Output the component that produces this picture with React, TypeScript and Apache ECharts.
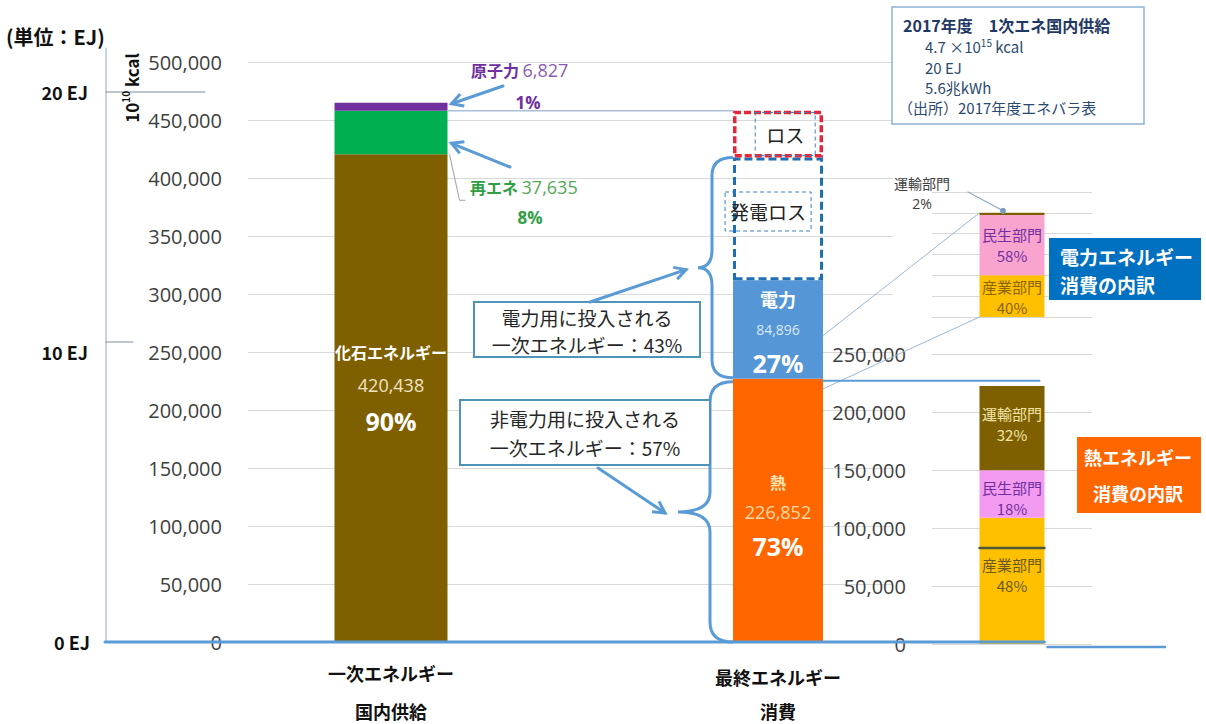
import { useEffect, useRef } from "react";
import * as echarts from "echarts";

// ---- energy balance, FY2017 (unit: 10^10 kcal) ----
const supplyNames = ["化石エネルギー", "再エネ", "原子力"];
const supplyValues = [420438, 37635, 6827];
const supplyShares = [90, 8, 1];
const supplyColors = ["#7f6000", "#00b050", "#7030a0"];

const finalNames = ["熱", "電力"];
const finalValues = [226852, 84896];
const finalShares = [73, 27];
const finalColors = ["#ff6600", "#5596d6"];

const lossNames = ["発電ロス", "ロス"];
const lossValues = [106000, 40300];

const inputShares = [43, 57]; // 電力用 / 非電力用

const electricSectors = ["産業部門", "民生部門", "運輸部門"];
const electricShares = [40, 58, 2];
const electricColors = ["#ffc000", "#f9a3cf", "#7f6000"];

const heatSectors = ["産業部門", "民生部門", "運輸部門"];
const heatShares = [48, 18, 32];
const heatColors = ["#ffc000", "#f39bf0", "#7f6000"];
const heatIndustryDivider = 82700;

const categories = ["一次エネルギー\n国内供給", "最終エネルギー\n消費"];
const kcalMax = 500000;
const sectorKcalMax = 250000;
const kcalStep = 50000;
const shareMax = 120;
const shareStep = 20;

const ejLabels = ["20 EJ", "10 EJ", "0 EJ"];
const infoTitle = "2017年度　1次エネ国内供給";
const infoLines = ["20 EJ", "5.6兆kWh"];
const infoSource = "（出所）2017年度エネバラ表";

const JP = '"Noto Sans CJK JP", "Noto Sans", sans-serif';
const NUM = '"Open Sans", "Noto Sans", sans-serif';
const fmt = (v: number) => v.toLocaleString("en-US");
const sum = (a: number[]) => a.reduce((s, v) => s + v, 0);

const SUPPLY_W = 113;
const FINAL_W = 90;
const SECTOR_W = 65;

// curly brace used to group the final-consumption bars
const Brace = (echarts as any).graphic.extendShape({
  type: "brace",
  shape: { x: 0, y1: 0, y2: 0, w: 20, r: 16, c: 18 },
  buildPath(ctx: any, s: any) {
    const xv = s.x - s.w;
    const ym = (s.y1 + s.y2) / 2;
    ctx.moveTo(s.x, s.y1);
    ctx.quadraticCurveTo(xv, s.y1, xv, s.y1 + s.r);
    ctx.lineTo(xv, ym - s.r);
    ctx.quadraticCurveTo(xv, ym, xv - s.c, ym);
    ctx.moveTo(xv - s.c, ym);
    ctx.quadraticCurveTo(xv, ym, xv, ym + s.r);
    ctx.lineTo(xv, s.y2 - s.r);
    ctx.quadraticCurveTo(xv, s.y2, s.x, s.y2);
  },
});
(echarts as any).graphic.registerShape("brace", Brace);

function txt(x: number, y: number, text: string, o: any = {}): any {
  const align = o.align || "left";
  const va = o.verticalAlign || "middle";
  return {
    type: "text",
    x,
    y,
    z: o.z || 30,
    silent: true,
    rotation: o.rotation || 0,
    style: {
      text,
      x: 0,
      y: 0,
      fill: o.fill || "#222",
      fontSize: o.fontSize || 16,
      fontWeight: o.fontWeight || "normal",
      fontFamily: o.fontFamily || JP,
      lineHeight: o.lineHeight,
      rich: o.rich,
      align,
      textAlign: align,
      verticalAlign: va,
      textVerticalAlign: va,
    },
  };
}

function seg(x1: number, y1: number, x2: number, y2: number, stroke: string, lineWidth: number, z = 20): any {
  return { type: "line", z, silent: true, shape: { x1, y1, x2, y2 }, style: { stroke, lineWidth, lineCap: "round" } };
}

function arrow(x1: number, y1: number, x2: number, y2: number, color: string, width: number): any[] {
  const a = Math.atan2(y2 - y1, x2 - x1);
  const len = 13;
  const sp = 0.5;
  const p1 = [x2 - len * Math.cos(a - sp), y2 - len * Math.sin(a - sp)];
  const p2 = [x2 - len * Math.cos(a + sp), y2 - len * Math.sin(a + sp)];
  return [
    seg(x1, y1, x2, y2, color, width, 25),
    {
      type: "polyline",
      z: 25,
      silent: true,
      shape: { points: [p1, [x2, y2], p2] },
      style: { stroke: color, lineWidth: width, fill: "none", lineJoin: "miter" },
    },
  ];
}

function sectorLabel(name: string, pct: number, color: string, posY: string) {
  return {
    show: true,
    position: ["50%", posY],
    align: "center",
    verticalAlign: "middle",
    formatter: `${name}\n${pct}%`,
    color,
    fontSize: 15,
    lineHeight: 21,
    fontFamily: JP,
  };
}

function buildOption(): any {
  const heat = finalValues[0];
  const valueAxisLabel = {
    formatter: (v: number) => fmt(v),
    fontSize: 20,
    color: "#404040",
    margin: 26,
    fontFamily: NUM,
  };
  const split = { show: true, lineStyle: { color: "#d9d9d9", width: 1.2 } };
  const catLabel = (lh: number, margin: number) => ({
    fontSize: 18,
    fontWeight: "bold",
    color: "#111",
    fontFamily: JP,
    lineHeight: lh,
    margin,
  });

  const supplySeries = supplyNames.map((name, i) => ({
    type: "bar",
    name,
    xAxisIndex: 1,
    yAxisIndex: 1,
    stack: "supply",
    barWidth: SUPPLY_W,
    silent: true,
    data: [supplyValues[i]],
    itemStyle: { color: supplyColors[i] },
    label:
      i === 0
        ? {
            show: true,
            position: ["50%", "48%"],
            align: "center",
            verticalAlign: "middle",
            formatter: `{n|${name}}\n{v|${fmt(supplyValues[i])}}\n{p|${supplyShares[i]}%}`,
            rich: {
              n: { fontSize: 16, fontWeight: "bold", color: "#ffffff", lineHeight: 32, fontFamily: JP },
              v: { fontSize: 18, color: "#f1e4c4", lineHeight: 34, fontFamily: NUM },
              p: { fontSize: 25, fontWeight: "bold", color: "#ffffff", lineHeight: 38, fontFamily: NUM },
            },
          }
        : { show: false },
  }));

  const finalRich = (nameSize: number, nameColor: string, valSize: number, valColor: string) => ({
    n: { fontSize: nameSize, fontWeight: "bold", color: nameColor, lineHeight: 29, fontFamily: JP },
    v: { fontSize: valSize, color: valColor, lineHeight: 32, fontFamily: NUM },
    p: { fontSize: 25, fontWeight: "bold", color: "#ffffff", lineHeight: 36, fontFamily: NUM },
  });

  const finalSeries = finalNames.map((name, i) => ({
    type: "bar",
    name,
    xAxisIndex: 2,
    yAxisIndex: 2,
    stack: "final",
    barWidth: FINAL_W,
    silent: true,
    data: [finalValues[i]],
    itemStyle: { color: finalColors[i] },
    label: {
      show: true,
      position: ["50%", i === 0 ? "52%" : "53%"],
      align: "center",
      verticalAlign: "middle",
      formatter: `{n|${name}}\n{v|${fmt(finalValues[i])}}\n{p|${finalShares[i]}%}`,
      rich: i === 0 ? finalRich(16, "#ffe3b0", 18, "#ffd6a3") : finalRich(18, "#ffffff", 14, "#dbe8f6"),
    },
  }));

  const lossSeries = lossNames.map((name, i) => ({
    type: "bar",
    name,
    xAxisIndex: 2,
    yAxisIndex: 2,
    stack: "final",
    barWidth: FINAL_W,
    silent: true,
    data: [lossValues[i]],
    itemStyle: {
      color: "rgba(255,255,255,0)",
      borderColor: i === 0 ? "#1f6fb5" : "#e3263a",
      borderWidth: i === 0 ? 3 : 3.5,
      borderType: i === 0 ? [8, 4] : [7, 3],
    },
    label: {
      show: true,
      position: i === 0 ? ["39%", "44%"] : ["58%", "50%"],
      align: "center",
      verticalAlign: "middle",
      formatter: name,
      color: "#222",
      fontSize: 19,
      fontFamily: JP,
      borderColor: "#3a80c0",
      borderWidth: 1,
      borderType: [4, 3],
      padding: i === 0 ? [10, 5] : [12, 11],
    },
  }));

  const heatPos = ["45%", "58%", "45%"];
  const heatLabelColors = ["#6b5a1e", "#7030a0", "#f2e4a8"];
  const heatSeries = heatSectors.map((name, i) => ({
    type: "bar",
    name: `熱・${name}`,
    xAxisIndex: 3,
    yAxisIndex: 3,
    stack: "heatSector",
    barWidth: SECTOR_W,
    silent: true,
    data: [(heat * heatShares[i]) / 100],
    itemStyle: { color: heatColors[i] },
    label: sectorLabel(name, heatShares[i], heatLabelColors[i], heatPos[i]),
  }));

  const elecLabelColors = ["#8a6500", "#7030a0", "#444"];
  const elecSeries = electricSectors.map((name, i) => ({
    type: "bar",
    name: `電力・${name}`,
    xAxisIndex: 4,
    yAxisIndex: 4,
    stack: "elecSector",
    barWidth: SECTOR_W,
    silent: true,
    data: [electricShares[i]],
    itemStyle: { color: electricColors[i] },
    label: i < 2 ? sectorLabel(name, electricShares[i], elecLabelColors[i], i === 0 ? "52%" : "50%") : { show: false },
  }));

  return {
    animation: false,
    backgroundColor: "#ffffff",
    grid: [
      { left: 248, top: 62, width: 645, height: 580, containLabel: false, outerBoundsMode: "none" },
      { left: 291, top: 62, width: 200, height: 580, containLabel: false, outerBoundsMode: "none" },
      { left: 678, top: 62, width: 200, height: 580, containLabel: false, outerBoundsMode: "none" },
      { left: 932, top: 354, width: 160, height: 290, containLabel: false, outerBoundsMode: "none" },
      { left: 932, top: 192, width: 160, height: 125, containLabel: false, outerBoundsMode: "none" },
    ],
    xAxis: [
      { gridIndex: 0, type: "category", data: [""], show: false },
      {
        gridIndex: 1,
        type: "category",
        data: [categories[0]],
        axisLine: { show: false },
        axisTick: { show: false },
        axisLabel: catLabel(38, 12),
      },
      {
        gridIndex: 2,
        type: "category",
        data: [categories[1]],
        axisLine: { show: false },
        axisTick: { show: false },
        axisLabel: catLabel(34, 18),
      },
      { gridIndex: 3, type: "category", data: ["熱"], show: false },
      { gridIndex: 4, type: "category", data: ["電力"], show: false },
    ],
    yAxis: [
      {
        gridIndex: 0,
        type: "value",
        min: 0,
        max: kcalMax,
        interval: kcalStep,
        axisLine: { show: false },
        axisTick: { show: false },
        axisLabel: valueAxisLabel,
        splitLine: split,
      },
      { gridIndex: 1, type: "value", min: 0, max: kcalMax, show: false },
      { gridIndex: 2, type: "value", min: 0, max: kcalMax, show: false },
      {
        gridIndex: 3,
        type: "value",
        min: 0,
        max: sectorKcalMax,
        interval: kcalStep,
        axisLine: { show: false },
        axisTick: { show: false },
        axisLabel: valueAxisLabel,
        splitLine: split,
      },
      {
        gridIndex: 4,
        type: "value",
        min: 0,
        max: shareMax,
        interval: shareStep,
        axisLine: { show: false },
        axisTick: { show: false },
        axisLabel: { show: false },
        splitLine: split,
      },
    ],
    series: [...supplySeries, ...finalSeries, ...lossSeries, ...heatSeries, ...elecSeries],
  };
}

function buildGraphics(chart: any): any[] {
  const yL = (v: number) => chart.convertToPixel({ yAxisIndex: 0 }, v) as number;
  const yR = (v: number) => chart.convertToPixel({ yAxisIndex: 3 }, v) as number;
  const yU = (v: number) => chart.convertToPixel({ yAxisIndex: 4 }, v) as number;
  const cxSupply = chart.convertToPixel({ xAxisIndex: 1 }, 0) as number;
  const cxFinal = chart.convertToPixel({ xAxisIndex: 2 }, 0) as number;
  const cxSector = chart.convertToPixel({ xAxisIndex: 3 }, 0) as number;

  const supplyRight = cxSupply + SUPPLY_W / 2;
  const finalLeft = cxFinal - FINAL_W / 2;
  const finalRight = cxFinal + FINAL_W / 2;
  const sectorLeft = cxSector - SECTOR_W / 2;
  const sectorRight = cxSector + SECTOR_W / 2;

  const fossil = supplyValues[0];
  const supplyTotal = sum(supplyValues);
  const heat = finalValues[0];
  const elecTop = heat + finalValues[1];
  const genLossTop = elecTop + lossValues[0];
  const lossTop = genLossTop + lossValues[1];

  const blue = "#5b9bd5";
  const g: any[] = [];

  // EJ scale on the far left
  g.push(seg(106, 48, 106, yL(0), "#b3c9de", 1.5, 5));
  g.push(seg(106, 92, 205, 92, "#7f8f9f", 1.2, 5));
  g.push(seg(106, 342, 133, 342, "#7f8f9f", 1.2, 5));
  g.push(txt(6, 36, "(単位：EJ)", { fontSize: 20, fontWeight: "bold", fill: "#111" }));
  g.push(txt(88, 92, ejLabels[0], { fontSize: 18, fontWeight: "bold", fill: "#111", align: "right" }));
  g.push(txt(88, 352, ejLabels[1], { fontSize: 18, fontWeight: "bold", fill: "#111", align: "right" }));
  g.push(txt(90, yL(0), ejLabels[2], { fontSize: 18, fontWeight: "bold", fill: "#111", align: "right" }));
  g.push(
    txt(131, 88, "{a|10}{s|10}{a| kcal}", {
      rotation: Math.PI / 2,
      align: "center",
      rich: {
        a: { fontSize: 17, fontWeight: "bold", fill: "#111", lineHeight: 22, fontFamily: JP },
        s: { fontSize: 10, fontWeight: "bold", fill: "#111", lineHeight: 22, verticalAlign: "top", fontFamily: JP },
      },
    })
  );

  // baseline
  g.push(seg(105, yL(0), sectorRight, yL(0), blue, 3, 6));
  g.push(seg(sectorRight + 3, yR(0) + 3, 1165, yR(0) + 3, blue, 2.5, 6));

  // nuclear / renewables call-outs
  g.push(
    txt(471, 70, `{b|${supplyNames[2]}} {n|${fmt(supplyValues[2])}}`, {
      rich: {
        b: { fontSize: 16, fontWeight: "bold", fill: "#7030a0", fontFamily: JP },
        n: { fontSize: 18, fill: "#8a5cb3", fontFamily: NUM },
      },
    })
  );
  g.push(txt(528, 102, `${supplyShares[2]}%`, { align: "center", fontSize: 17, fontWeight: "bold", fill: "#7030a0", fontFamily: NUM }));
  g.push(
    txt(470, 187, `{b|${supplyNames[1]}} {n|${fmt(supplyValues[1])}}`, {
      rich: {
        b: { fontSize: 16, fontWeight: "bold", fill: "#2f9e44", fontFamily: JP },
        n: { fontSize: 18, fill: "#55a85a", fontFamily: NUM },
      },
    })
  );
  g.push(txt(530, 217, `${supplyShares[1]}%`, { align: "center", fontSize: 17, fontWeight: "bold", fill: "#2f9e44", fontFamily: NUM }));
  g.push(...arrow(503, 86, supplyRight + 4, yL(supplyTotal) + 1, blue, 3));
  g.push(...arrow(510, 167, supplyRight + 4, yL(fossil) - 11, blue, 3));
  g.push({
    type: "polyline",
    z: 20,
    silent: true,
    shape: { points: [[supplyRight + 2, yL(fossil)], [supplyRight + 12, yL(fossil) + 46], [supplyRight + 18, yL(fossil) + 46]] },
    style: { stroke: "#a0a0a0", lineWidth: 1, fill: "none" },
  });

  // supply total carried over to the loss box
  g.push(seg(supplyRight, yL(lossTop), finalLeft, yL(lossTop), "#a9bfd8", 1.5, 4));

  // input boxes
  g.push({
    type: "rect",
    z: 22,
    silent: true,
    shape: { x: 474, y: 302, width: 226, height: 55 },
    style: { fill: "#ffffff", stroke: "#4f93b8", lineWidth: 2 },
  });
  g.push(
    txt(587, 331, `電力用に投入される\n一次エネルギー：${inputShares[0]}%`, {
      align: "center",
      fontSize: 19,
      lineHeight: 27,
      fill: "#262626",
    })
  );
  g.push({
    type: "rect",
    z: 22,
    silent: true,
    shape: { x: 460, y: 400, width: 250, height: 65 },
    style: { fill: "#ffffff", stroke: "#4f93b8", lineWidth: 2 },
  });
  g.push(
    txt(585, 433, `非電力用に投入される\n一次エネルギー：${inputShares[1]}%`, {
      align: "center",
      fontSize: 19,
      lineHeight: 29,
      fill: "#262626",
    })
  );

  // braces grouping electricity input and non-electric use
  const upper = { x: finalLeft, y1: yL(genLossTop), y2: yL(heat) - 1, w: 21, r: 18, c: 14 };
  const lower = { x: finalLeft, y1: yL(heat) + 3, y2: yL(0), w: 23, r: 20, c: 32 };
  g.push({ type: "brace", z: 20, silent: true, shape: upper, style: { stroke: blue, lineWidth: 3, fill: "none" } });
  g.push({ type: "brace", z: 20, silent: true, shape: lower, style: { stroke: blue, lineWidth: 3, fill: "none" } });
  const upTip = [upper.x - upper.w - upper.c, (upper.y1 + upper.y2) / 2];
  const lowTip = [lower.x - lower.w - lower.c, (lower.y1 + lower.y2) / 2];
  g.push(...arrow(590, 302, upTip[0] - 12, upTip[1] + 2, blue, 3));
  g.push(...arrow(598, 468, lowTip[0] - 13, lowTip[1] + 1, blue, 3));

  // links to the sector breakdowns
  g.push(seg(finalRight, yR(heat), sectorRight - 5, yR(heat), blue, 2, 8));
  g.push(seg(finalRight, yL(heat + finalValues[1] / 2) + 6, sectorLeft, yU(100), "#9cb8d4", 1, 4));
  g.push(seg(finalRight, yL(heat) + 10, sectorLeft, yU(0), "#9cb8d4", 1, 4));
  g.push(seg(sectorLeft, yR(heatIndustryDivider), sectorRight, yR(heatIndustryDivider), "#4f5a3a", 2.5, 8));

  // transport share of electricity
  g.push(txt(922, 183, electricSectors[2], { align: "center", fontSize: 14, fill: "#404040" }));
  g.push(txt(922, 203, `${electricShares[2]}%`, { align: "center", fontSize: 14, fill: "#404040", fontFamily: NUM }));
  g.push(seg(968, 192, cxSector - 9, yU(100) - 2, "#8aa9c9", 1.2, 20));
  g.push({
    type: "circle",
    z: 21,
    silent: true,
    shape: { cx: cxSector - 9, cy: yU(100) - 2, r: 3 },
    style: { fill: "#7a9cc0" },
  });

  // breakdown captions
  g.push({ type: "rect", z: 22, silent: true, shape: { x: 1049, y: 238, width: 152, height: 62 }, style: { fill: "#0070c0" } });
  g.push(txt(1060, 256, "電力エネルギー", { fontSize: 19, fontWeight: "bold", fill: "#ffffff" }));
  g.push(txt(1060, 284, "消費の内訳", { fontSize: 19, fontWeight: "bold", fill: "#ffffff" }));
  g.push({ type: "rect", z: 22, silent: true, shape: { x: 1077, y: 437, width: 124, height: 76 }, style: { fill: "#ff6600" } });
  g.push(txt(1138, 457, "熱エネルギー", { align: "center", fontSize: 18, fontWeight: "bold", fill: "#ffffff" }));
  g.push(txt(1138, 493, "消費の内訳", { align: "center", fontSize: 18, fontWeight: "bold", fill: "#ffffff" }));

  // info box
  g.push({
    type: "rect",
    z: 22,
    silent: true,
    shape: { x: 892, y: 7, width: 252, height: 117 },
    style: { fill: "#ffffff", stroke: "#8db3d9", lineWidth: 1.5 },
  });
  g.push(txt(903, 25, infoTitle, { fontSize: 16, fontWeight: "bold", fill: "#1f3864", lineHeight: 18 }));
  g.push(
    txt(925, 46, "{a|4.7 ×10}{s|15}{a| kcal}", {
      rich: {
        a: { fontSize: 15, fill: "#2a4a70", lineHeight: 17, fontFamily: JP },
        s: { fontSize: 10, fill: "#2a4a70", lineHeight: 17, verticalAlign: "top", fontFamily: JP },
      },
    })
  );
  g.push(txt(925, 67, infoLines[0], { fontSize: 15, fill: "#2a4a70", lineHeight: 17 }));
  g.push(txt(925, 87, infoLines[1], { fontSize: 15, fill: "#2a4a70", lineHeight: 17 }));
  g.push(txt(898, 107, infoSource, { fontSize: 15, fill: "#2a4a70", lineHeight: 17 }));

  return g;
}

export default function App() {
  const ref = useRef<HTMLDivElement>(null);
  useEffect(() => {
    if (!ref.current) return;
    const chart = echarts.init(ref.current, null, { renderer: "svg" });
    chart.setOption(buildOption());
    chart.setOption({ graphic: buildGraphics(chart) });
    return () => chart.dispose();
  }, []);
  return (
    <div
      ref={ref}
      style={{ position: "fixed", left: 0, top: 0, width: 1206, height: 724, background: "#ffffff" }}
    />
  );
}
